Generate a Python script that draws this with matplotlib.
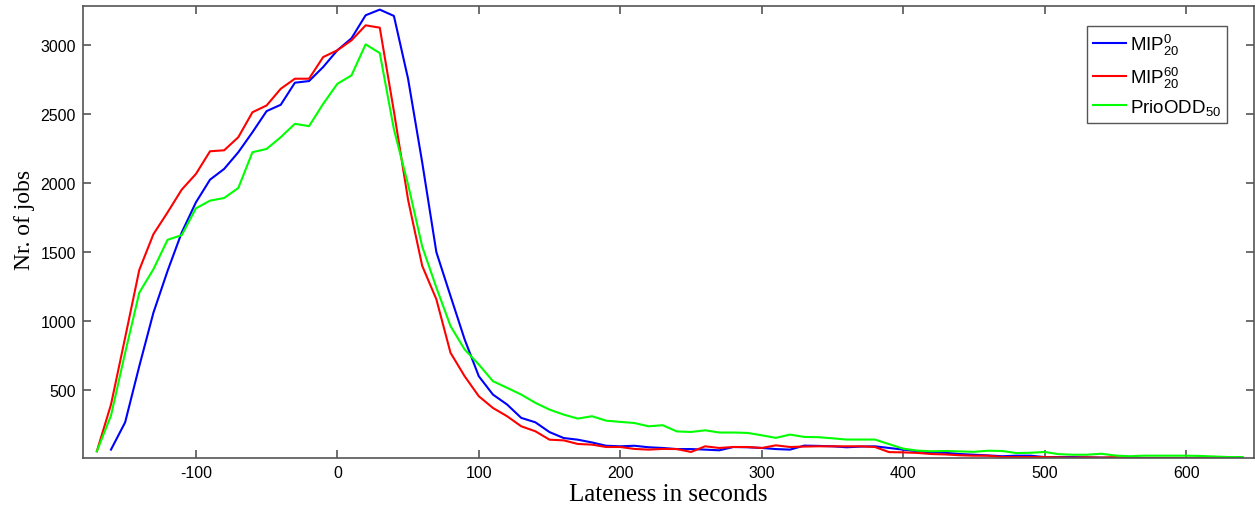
import numpy as np
import matplotlib
matplotlib.use("Agg")
import matplotlib.pyplot as plt

# lateness bins (seconds), 10 s wide
lateness = np.arange(-170, 650, 10)

mip_0 = [np.nan, 68, 266, 673, 1061, 1364, 1642, 1860, 2025, 2103,
         2224, 2369, 2522, 2568, 2728, 2740, 2842, 2963, 3050, 3217,
         3258, 3212, 2757, 2150, 1500, 1182, 867, 600, 467, 395,
         298, 266, 195, 152, 140, 120, 96, 92, 96, 85,
         80, 72, 72, 68, 63, 87, 85, 80, 72, 68,
         97, 95, 92, 85, 90, 92, 80, 68, 56, 48,
         45, 36, 31, 26, 20, 24, 24, 14, 14, 14,
         12, 10, 8, 5, 5, 5, 5, 5, 5, 5, 5, 5]

mip_60 = [56, 395, 880, 1371, 1630, 1788, 1953, 2066, 2231, 2238,
          2333, 2514, 2563, 2684, 2757, 2757, 2914, 2963, 3035, 3144,
          3127, 2520, 1880, 1400, 1158, 770, 600, 455, 370, 310,
          237, 201, 140, 135, 109, 104, 87, 87, 73, 68,
          73, 72, 51, 92, 80, 87, 87, 80, 99, 87,
          90, 92, 92, 92, 92, 87, 50, 48, 44, 36,
          33, 27, 24, 24, 14, 14, 14, 14, 12, 10,
          12, 10, 14, 5, 5, 5, 5, 5, 5, 5, 5, 5]

prio_odd = [56, 315, 770, 1206, 1376, 1589, 1623, 1817, 1873, 1892,
            1965, 2224, 2248, 2333, 2430, 2413, 2575, 2720, 2781, 3006,
            2943, 2390, 1990, 1540, 1243, 964, 794, 685, 564, 516,
            467, 407, 358, 322, 293, 310, 278, 269, 261, 237,
            245, 200, 196, 208, 192, 192, 189, 172, 153, 177,
            160, 158, 150, 141, 141, 141, 108, 75, 61, 56,
            58, 55, 52, 60, 58, 43, 45, 51, 35, 31,
            31, 38, 25, 20, 24, 24, 24, 24, 22, 18, 14, 14]

labels = [r'MIP$_{20}^{0}$', r'MIP$_{20}^{60}$', r'PrioODD$_{50}$']
colors = ['#0000ff', '#ff0000', '#00ff00']

plt.rcParams['font.family'] = ['Liberation Sans', 'DejaVu Sans']
plt.rcParams['axes.unicode_minus'] = False
plt.rcParams['mathtext.fontset'] = 'custom'
plt.rcParams['mathtext.rm'] = 'Liberation Sans'
plt.rcParams['mathtext.it'] = 'Liberation Sans:italic'

fig = plt.figure(figsize=(12.55, 5.10), dpi=100)
ax = fig.add_axes([0.0659, 0.0994, 0.9333, 0.8863])

for series, label, color in zip([mip_0, mip_60, prio_odd], labels, colors):
    ax.plot(lateness, series, color=color, linewidth=1.5, label=label)

ax.set_xlim(-180, 648)
ax.set_ylim(5, 3282)
ax.set_xticks(np.arange(-100, 700, 100))
ax.set_yticks(np.arange(500, 3500, 500))

edge = '#555555'
for spine in ax.spines.values():
    spine.set_color(edge)
    spine.set_linewidth(1.2)
ax.tick_params(direction='in', length=6, width=1.2, color=edge,
               top=True, right=True, labelsize=11.5, pad=5)

ax.set_xlabel('Lateness in seconds', family='Liberation Serif', fontsize=18, labelpad=2)
ax.set_ylabel('Nr. of jobs', family='Liberation Serif', fontsize=17)
ax.yaxis.set_label_coords(-0.041, 0.53)

leg = ax.legend(loc='upper right', bbox_to_anchor=(0.977, 0.956), borderaxespad=0,
                fontsize=13.5, fancybox=False, framealpha=1, handlelength=1.8,
                handletextpad=0.2, labelspacing=0.4, borderpad=0.3)
leg.get_frame().set_edgecolor('#555555')
leg.get_frame().set_linewidth(1.0)

fig.savefig('out.png', dpi=100)
